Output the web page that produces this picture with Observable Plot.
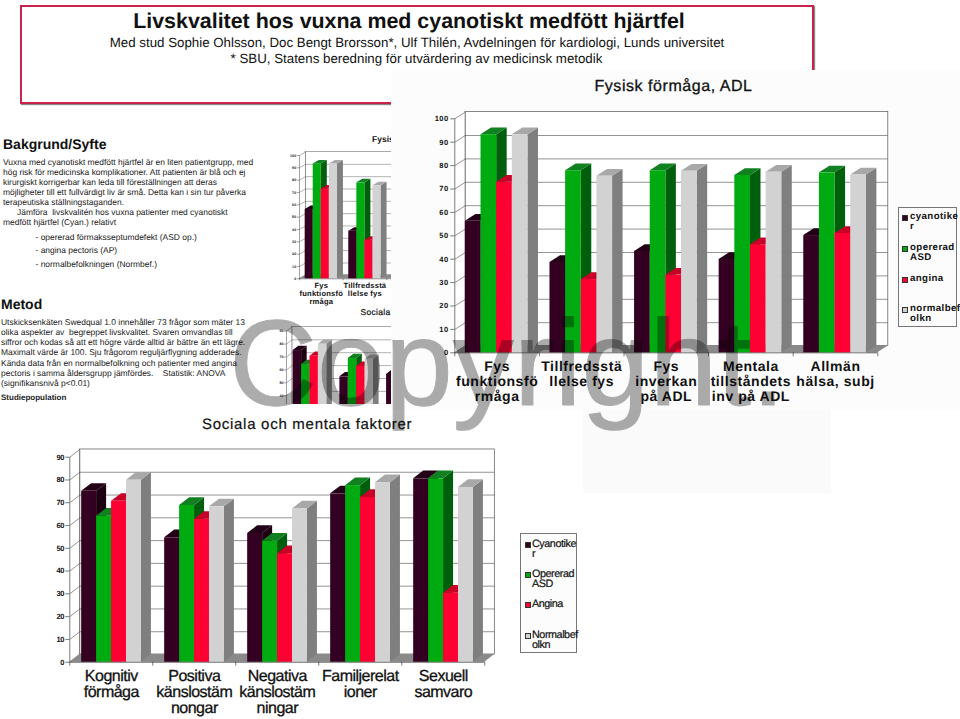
<!DOCTYPE html>
<html><head><meta charset="utf-8">
<script src="https://cdn.jsdelivr.net/npm/d3@7"></script>
<script src="https://cdn.jsdelivr.net/npm/@observablehq/plot@0.6"></script>
<style>
html,body{margin:0;padding:0;background:#fff;}
#page{position:relative;width:960px;height:719px;overflow:hidden;font-family:"Liberation Sans",Arial,sans-serif;color:#111;text-rendering:geometricPrecision;}
.abs{position:absolute;}
.c{text-align:center;white-space:nowrap;}
.body{font-size:8.45px;line-height:10.15px;white-space:pre;color:#222;}
.h{font-weight:700;font-size:14px;white-space:nowrap;}
.legend{border:1px solid #777;box-sizing:border-box;background:#fcfcfc;}
.legend div{position:absolute;white-space:nowrap;}
.legend i{position:absolute;width:4px;height:4px;border:.5px solid #333;}
svg{display:block;text-rendering:geometricPrecision;}
</style></head><body><div id="page"></div>
<script>
// --- Fysisk förmåga, ADL ---
const adlCategories = ["Fys\nfunktionsfö\nrmåga","Tillfredsstä\nllelse fys","Fys\ninverkan\npå ADL","Mentala\ntillståndets\ninv på ADL","Allmän\nhälsa, subj"];
const adlCyanotiker = [56.2,38.6,43.3,39.9,50.1];
const adlOpererad   = [93.2,77.8,77.8,75.8,76.9];
const adlAngina     = [72.9,31.3,33.2,46.2,51];
const adlNormal     = [93.2,75.5,77.6,77.2,76];
const adlTicks = [0,10,20,30,40,50,60,70,80,90,100];
const adlLegend = ["cyanotike\nr","opererad\nASD","angina","normalbef\nolkn"];
// --- Sociala och mentala faktorer ---
const socCategories = ["Kognitiv\nförmåga","Positiva\nkänslostäm\nnongar","Negativa\nkänslostäm\nningar","Familjerelat\nioner","Sexuell\nsamvaro"];
const socCyanotiker = [75,54.6,56.5,73.9,80.5];
const socOpererad   = [64.1,68.8,53.1,77.5,80.5];
const socAngina     = [70.6,62.7,47.6,72.3,30.3];
const socNormal     = [79.9,68.2,67.3,78.8,76.7];
const socTicks = [0,10,20,30,40,50,60,70,80,90];
const socLegend = ["Cyanotike\nr","Opererad\nASD","Angina","Normalbef\nolkn"];
// --- colours: front, top, side ---
const seriesColors = [
  ["#330022","#240018","#1c0012"],
  ["#00aa11","#108020","#005f0c"],
  ["#ff0033","#c80028","#96001e"],
  ["#d2d2d2","#a8a8a8","#7f7f7f"]];

const page = document.getElementById("page");
function add(cls, css, html){const d=document.createElement("div");d.className="abs "+cls;d.style.cssText=css;d.innerHTML=html||"";page.appendChild(d);return d;}

function chart3d(o){
  const n=o.categories.length, W=o.w, H=o.h;
  const mL=o.frontX-o.left, baseY=o.y0-o.top;
  const dX=o.depthX/o.catW, dY=o.depthY/o.ppu, top=o.yMax;
  const x={type:"linear",domain:[0,n],range:[mL,mL+n*o.catW],axis:null};
  const y={type:"linear",domain:[0,top],range:[baseY,baseY-top*o.ppu],axis:null};
  const para=(id,a,b,c,d)=>[{id,x1:a[0],y1:a[1],x2:d[0],y2:d[1]},{id,x1:b[0],y1:b[1],x2:c[0],y2:c[1]}];
  const area=(rows,opt)=>Plot.area(rows,{x1:"x1",y1:"y1",x2:"x2",y2:"y2",z:"id",curve:"linear",...opt});
  const marks=[
    Plot.rect([0],{x1:dX,x2:n+dX,y1:dY,y2:top+dY,fill:"#fff",stroke:"#555",strokeWidth:o.sw}),
    area(para("wall",[0,0],[0,top],[dX,top+dY],[dX,dY]),{fill:"#fff"}),
    Plot.ruleY(o.ticks.slice(1,-1),{y:d=>d+dY,x1:dX,x2:n+dX,stroke:"#666",strokeWidth:o.sw}),
    Plot.link(o.ticks,{x1:0,y1:d=>d,x2:dX,y2:d=>d+dY,stroke:"#666",strokeWidth:o.sw}),
    area(para("floor",[0,0],[n,0],[n+dX,dY],[dX,dY]),{fill:"#8a8a8a"}),
    Plot.link([0],{x1:dX,y1:dY,x2:dX,y2:top+dY,stroke:"#555",strokeWidth:o.sw}),
    Plot.ruleX([0],{x:0,y1:0,y2:top,stroke:"#444",strokeWidth:o.sw}),
    Plot.ruleX(d3.range(n+1),{x:d=>d,y1:0,y2:-o.tick/o.ppu,stroke:"#444",strokeWidth:o.sw}),
    Plot.ruleY([0],{x1:0,x2:n,stroke:"#222",strokeWidth:o.sw})
  ];
  o.series.forEach((vals,s)=>{
    const side=[],topF=[],front=[];
    vals.forEach((v,c)=>{
      const l=c+o.barStart+s*o.barW, r=l+o.barW;
      side.push(...para(`s${c}`,[r,v],[r+dX,v+dY],[r+dX,dY],[r,0]));
      topF.push(...para(`t${c}`,[l,v],[r,v],[r+dX,v+dY],[l+dX,v+dY]));
      front.push({l,r,v});
    });
    marks.push(area(side,{fill:seriesColors[s][2]}));
    marks.push(area(topF,{fill:seriesColors[s][1]}));
    marks.push(Plot.rect(front,{x1:"l",x2:"r",y1:0,y2:"v",fill:seriesColors[s][0]}));
  });
  marks.push(Plot.axisY(o.axisTicks||o.ticks,{anchor:"left",tickSize:o.tick,tickPadding:o.tickPad,fontSize:o.tickFont,fontWeight:"bold",stroke:"#444",fill:"#111",label:null,strokeWidth:o.sw}));
  if(o.labelFont) marks.push(Plot.text(o.categories,{x:(d,i)=>i+.5,y:0,text:d=>d,dy:o.labelDy,lineAnchor:"top",textAnchor:"middle",fontSize:o.labelFont,fontWeight:o.labelWeight,lineHeight:o.labelLH,fill:"#111",stroke:o.labelStroke?"#111":"none",strokeWidth:o.labelStroke||0}));
  const svg=Plot.plot({width:W,height:H,marginLeft:mL,marginRight:W-mL-n*o.catW,marginTop:0,marginBottom:H-baseY,x,y,
    style:{background:"transparent",fontFamily:'"Liberation Sans",Arial,sans-serif',letterSpacing:o.ls||"0",overflow:"visible"},marks});
  return svg;
}
function place(o,clipH){
  const d=add("", `left:${o.left}px;top:${o.top}px;width:${o.w}px;height:${clipH||o.h}px;overflow:${clipH?"hidden":"visible"};`);
  d.appendChild(chart3d(o));
}
function legend(css,names,pos,txt,mark){
  const l=add("legend",css);
  names.forEach((nm,i)=>{
    l.insertAdjacentHTML("beforeend",`<i style="left:${mark.x}px;top:${pos[i]+mark.dy}px;background:${seriesColors[i][0]}"></i><div style="left:${mark.tx}px;top:${pos[i]}px;${txt}">${nm.replace("\n","<br>")}</div>`);
  });
}

// header
add("","left:20px;top:5px;width:790px;height:95px;border:2px solid #c8234a;box-shadow:1px 1px 1px #888;background:#fff;");
add("c","left:0;width:818px;top:9px;font-size:21.4px;font-weight:700;color:#111;","Livskvalitet hos vuxna med cyanotiskt medfött hjärtfel");
add("c","left:0;width:834px;top:35px;font-size:13.3px;","Med stud Sophie Ohlsson, Doc Bengt Brorsson*, Ulf Thilén, Avdelningen för kardiologi, Lunds universitet");
add("c","left:0;width:833px;top:51px;font-size:13.3px;","* SBU, Statens beredning för utvärdering av medicinsk metodik");

// left text
add("h","left:3px;top:136px;","Bakgrund/Syfte");
add("body","left:3px;top:156.5px;",
`Vuxna med cyanotiskt medfött hjärtfel är en liten patientgrupp, med
hög risk för medicinska komplikationer. Att patienten är blå och ej
kirurgiskt korrigerbar kan leda till föreställningen att deras
möjligheter till ett fullvärdigt liv är små. Detta kan i sin tur påverka
terapeutiska ställningstaganden.
      Jämföra  livskvalitén hos vuxna patienter med cyanotiskt
medfött hjärtfel (Cyan.) relativt`);
add("body","left:35.5px;top:231px;line-height:13.4px;",
`- opererad förmaksseptumdefekt (ASD op.)
- angina pectoris (AP)
- normalbefolkningen (Normbef.)`);
add("h","left:1px;top:296px;","Metod");
add("body","left:1px;top:317px;",
`Utskicksenkäten Swedqual 1.0 innehåller 73 frågor som mäter 13
olika aspekter av  begreppet livskvalitet. Svaren omvandlas till
siffror och kodas så att ett högre värde alltid är bättre än ett lägre.
Maximalt värde är 100. Sju frågorom reguljärflygning adderades.
Kända data från en normalbefolkning och patienter med angina
pectoris i samma åldersgrupp jämfördes.    Statistik: ANOVA
(signifikansnivå p<0.01)`);
add("body","left:1px;top:393px;font-weight:700;font-size:8px;","Studiepopulation");

const adlSeries=[adlCyanotiker,adlOpererad,adlAngina,adlNormal];
const socSeries=[socCyanotiker,socOpererad,socAngina,socNormal];

// thumbnails behind the panel
add("","left:372px;top:134px;font-size:8.5px;font-weight:700;white-space:nowrap;","Fysisk förmåga, ADL");
place({left:280,top:145,w:240,h:175,frontX:299,catW:43.6,y0:278.3,ppu:1.233,depthX:6,depthY:3.5,yMax:100,ticks:adlTicks,
  categories:adlCategories,series:adlSeries,barStart:.13,barW:.185,sw:.5,tick:2,tickPad:1,tickFont:3.6,
  labelFont:7.6,labelWeight:"bold",labelDy:3,labelLH:1.07,ls:".2px"});
add("","left:360.5px;top:307px;font-size:8.5px;-webkit-text-stroke:.2px;white-space:nowrap;letter-spacing:.3px;","Sociala och mentala faktorer");
place({left:270,top:320,w:240,h:160,frontX:286,catW:46.7,y0:446.8,ppu:1.29,depthX:5.6,depthY:4.3,yMax:90,ticks:socTicks,axisTicks:socTicks.slice(4),
  categories:socCategories,series:socSeries,barStart:.143,barW:.18,sw:.5,tick:2,tickPad:1,tickFont:3.6},84);

// overlay panels
add("","left:583px;top:405px;width:248px;height:88px;background:#fafafa;");
add("","left:391px;top:70px;width:569px;height:340px;background:#fcfcfc;");

// main chart
add("c","left:391px;width:565px;top:78px;font-size:16px;letter-spacing:.55px;-webkit-text-stroke:.3px;","Fysisk förmåga, ADL");
place({left:420,top:100,w:480,h:310,frontX:454.3,catW:84.6,y0:352.3,ppu:2.34,depthX:10.5,depthY:6.7,yMax:100,ticks:adlTicks,
  categories:adlCategories,series:adlSeries,barStart:.125,barW:.185,sw:.7,tick:4,tickPad:2,tickFont:7.5,
  labelFont:14,labelWeight:"bold",labelDy:8,labelLH:1.05,ls:".55px"});
legend("left:898px;top:207px;width:59px;height:120px;",adlLegend,[4,35,66,96],"font-size:9.7px;font-weight:700;line-height:10px;letter-spacing:.4px;color:#111;",{x:3,dy:2.5,tx:11});

// bottom chart
add("","left:202px;top:416px;font-size:15px;letter-spacing:.72px;-webkit-text-stroke:.2px;white-space:nowrap;","Sociala och mentala faktorer");
place({left:40,top:440,w:470,h:279,frontX:69.3,catW:83,y0:661.7,ppu:2.278,depthX:10,depthY:7.7,yMax:90,ticks:socTicks,
  categories:socCategories,series:socSeries,barStart:.143,barW:.18,sw:.7,tick:4,tickPad:2,tickFont:7.5,
  labelFont:16,labelWeight:"normal",labelDy:7,labelLH:1.0,ls:"-.5px",labelStroke:.3});
legend("left:520px;top:533px;width:57px;height:120px;",socLegend,[5,35,65,96],"font-size:10.8px;line-height:10.2px;letter-spacing:-.45px;-webkit-text-stroke:.2px;color:#111;",{x:4,dy:2.5,tx:11});

// watermark
add("","left:229px;top:293px;font-size:122px;line-height:140px;color:#000;-webkit-text-stroke:1px #000;opacity:.32;white-space:nowrap;","Copyright.");
</script></body></html>
